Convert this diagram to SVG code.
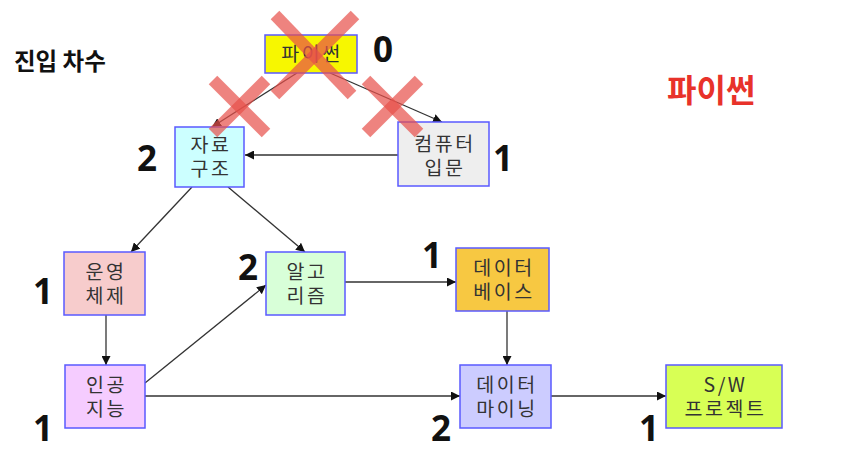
<svg xmlns="http://www.w3.org/2000/svg" width="860" height="464" viewBox="0 0 860 464">
<defs>
<marker id="ah" viewBox="0 0 10 10" refX="10" refY="5" markerWidth="9" markerHeight="9" markerUnits="userSpaceOnUse" orient="auto"><path d="M0,0 L10,5 L0,10 z" fill="#111"/></marker>
<style>
.n{stroke:#5a5aff;stroke-width:1.5}
.t{font-family:"Noto Sans CJK KR","Noto Sans",sans-serif;font-size:19.500px;letter-spacing:2.500px;fill:#333;text-anchor:middle}
.c{stroke:#333;stroke-width:1.3;fill:none;marker-end:url(#ah)}
.d{font-family:"Open Sans","Liberation Sans",sans-serif;font-weight:bold;font-size:35px;fill:#111;text-anchor:middle}
.x{stroke:#e8504a;stroke-width:12;opacity:0.7;stroke-linecap:butt}
</style>
</defs>
<rect width="860" height="464" fill="#fff"/>
<text x="14" y="70" style="font-family:'Noto Sans CJK KR',sans-serif;font-weight:bold;font-size:23.500px;fill:#111">진입 차수</text>
<text x="667" y="102" style="font-family:'Noto Sans CJK KR',sans-serif;font-weight:bold;font-size:32px;fill:#e8322a">파이썬</text>
<g id="connectors">
<line class="c" x1="297" y1="73" x2="212" y2="127"/>
<line class="c" x1="330" y1="73" x2="442" y2="122"/>
<line class="c" x1="398" y1="155" x2="245" y2="155"/>
<line class="c" x1="192" y1="187" x2="131" y2="252"/>
<line class="c" x1="228" y1="187" x2="305" y2="252"/>
<line class="c" x1="106" y1="315" x2="106" y2="365"/>
<line class="c" x1="145" y1="383" x2="266" y2="285"/>
<line class="c" x1="145" y1="396" x2="460" y2="396"/>
<line class="c" x1="345" y1="282" x2="456" y2="282"/>
<line class="c" x1="507" y1="311" x2="507" y2="365"/>
<line class="c" x1="551" y1="396" x2="666" y2="396"/>
</g>
<g id="n-python"><rect class="n" x="265" y="35" width="92" height="38" fill="#f7f700"/><text class="t" x="312" y="61">파이썬</text></g>
<g id="n-ds"><rect class="n" x="175" y="127" width="69" height="60" fill="#ccffff"/><text class="t"><tspan x="211" y="152">자료</tspan><tspan x="211" y="176">구조</tspan></text></g>
<g id="n-intro"><rect class="n" x="398" y="122" width="91" height="64" fill="#eeeeee"/><text class="t"><tspan x="445" y="151">컴퓨터</tspan><tspan x="445" y="175">입문</tspan></text></g>
<g id="n-os"><rect class="n" x="64" y="252" width="81" height="63" fill="#f7cccc"/><text class="t"><tspan x="106" y="279">운영</tspan><tspan x="106" y="303">체제</tspan></text></g>
<g id="n-algo"><rect class="n" x="266" y="252" width="79" height="63" fill="#d8ffd8"/><text class="t"><tspan x="307" y="279">알고</tspan><tspan x="307" y="303">리즘</tspan></text></g>
<g id="n-ai"><rect class="n" x="65" y="365" width="80" height="63" fill="#f5ccff"/><text class="t"><tspan x="106.500" y="392">인공</tspan><tspan x="106.500" y="416">지능</tspan></text></g>
<g id="n-db"><rect class="n" x="456" y="248" width="93" height="63" fill="#f7c842"/><text class="t"><tspan x="504" y="275">데이터</tspan><tspan x="504" y="299">베이스</tspan></text></g>
<g id="n-dm"><rect class="n" x="460" y="365" width="91" height="63" fill="#ccccff"/><text class="t"><tspan x="507" y="392">데이터</tspan><tspan x="507" y="416">마이닝</tspan></text></g>
<g id="n-sw"><rect class="n" x="666" y="365" width="116" height="63" fill="#d8ff55"/><text class="t"><tspan x="725.500" y="392">S/W</tspan><tspan x="725.500" y="416">프로젝트</tspan></text></g>
<g id="degrees">
<text class="d" x="383" y="62">0</text>
<text class="d" x="147" y="171">2</text>
<text class="d" x="503" y="171">1</text>
<text class="d" x="43" y="304">1</text>
<text class="d" x="248" y="280">2</text>
<text class="d" x="432" y="268">1</text>
<text class="d" x="43" y="441">1</text>
<text class="d" x="441" y="441">2</text>
<text class="d" x="649" y="441">1</text>
</g>
<g id="crosses">
<line class="x" x1="275" y1="15" x2="352" y2="95"/><line class="x" x1="355" y1="15" x2="275" y2="95"/>
<line class="x" x1="213" y1="80" x2="266" y2="133"/><line class="x" x1="266" y1="80" x2="213" y2="133"/>
<line class="x" x1="366" y1="80" x2="419" y2="133"/><line class="x" x1="419" y1="80" x2="366" y2="133"/>
</g>
</svg>
